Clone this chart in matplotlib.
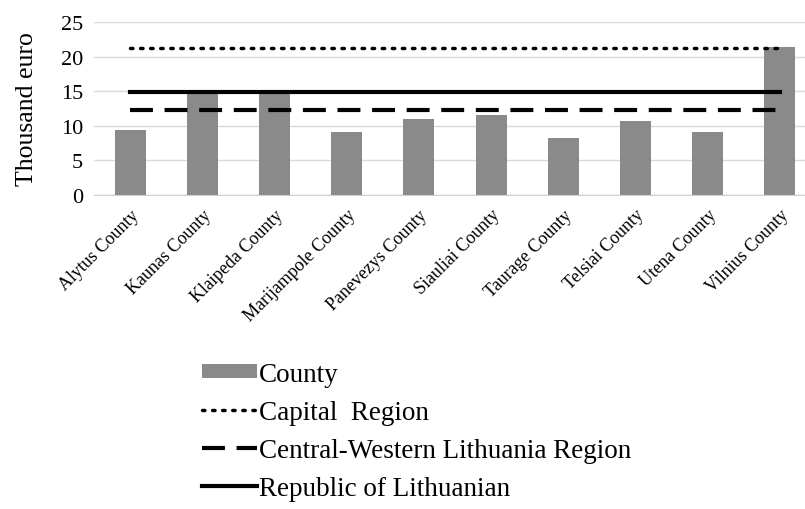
import matplotlib
matplotlib.use('Agg')
import matplotlib.pyplot as plt
import numpy as np

# Data
counties = ['Alytus County', 'Kaunas County', 'Klaipeda County', 'Marijampole County',
            'Panevezys County', 'Siauliai County', 'Taurage County', 'Telsiai County',
            'Utena County', 'Vilnius County']
county_values = [9.45, 14.8, 14.8, 9.1, 11.05, 11.5, 8.3, 10.7, 9.1, 21.4]
capital_region = 21.2
central_western_region = 12.35
republic = 14.95

plt.rcParams['font.family'] = ['Liberation Serif', 'DejaVu Serif']

fig = plt.figure(figsize=(8.05, 5.10), dpi=100)
ax = fig.add_axes([94 / 805, 1 - 196 / 510, (816 - 94) / 805, (196 - 23) / 510])

x = np.arange(len(counties))
ax.bar(x, county_values, width=0.43, color='#8a8a8a', label='County', zorder=2)

line_x = [x[0], x[-1]]
ax.plot(line_x, [capital_region] * 2, color='black', lw=2.5,
        linestyle=(0, (0.7, 2.2)), dash_capstyle='round', label='Capital  Region', zorder=3)
ax.plot(line_x, [central_western_region] * 2, color='black', lw=3,
        linestyle=(0, (5.5, 2.8)), label='Central-Western Lithuania Region', zorder=3)
ax.plot(line_x, [republic] * 2, color='black', lw=3, label='Republic of Lithuanian', zorder=3)

ax.set_xlim(-0.5, len(counties) - 0.5)
ax.set_ylim(0, 25)
ax.set_yticks([0, 5, 10, 15, 20, 25])
ax.yaxis.grid(True, color='#d9d9d9', lw=1)
ax.set_axisbelow(True)
for s in ['top', 'right', 'left']:
    ax.spines[s].set_visible(False)
ax.spines['bottom'].set_color('#d0d0d0')
ax.tick_params(axis='both', length=0)
ax.tick_params(axis='y', labelsize=16, pad=8)
ax.set_xticks(x)
ax.set_xticklabels(counties, rotation=45, ha='right', rotation_mode='anchor', fontsize=13)
ax.tick_params(axis='x', pad=8)
ax.set_ylabel('Thousand euro', fontsize=18.5, labelpad=16)

handles, labels = ax.get_legend_handles_labels()
order = [3, 0, 1, 2]
fig.legend([handles[i] for i in order], [labels[i] for i in order],
           loc='upper left', bbox_to_anchor=(0.238, 0.31), frameon=False,
           fontsize=19.5, handlelength=2.0, handleheight=0.45, handletextpad=0.1,
           labelspacing=0.48, borderaxespad=0)

plt.savefig('out.png', dpi=100)
